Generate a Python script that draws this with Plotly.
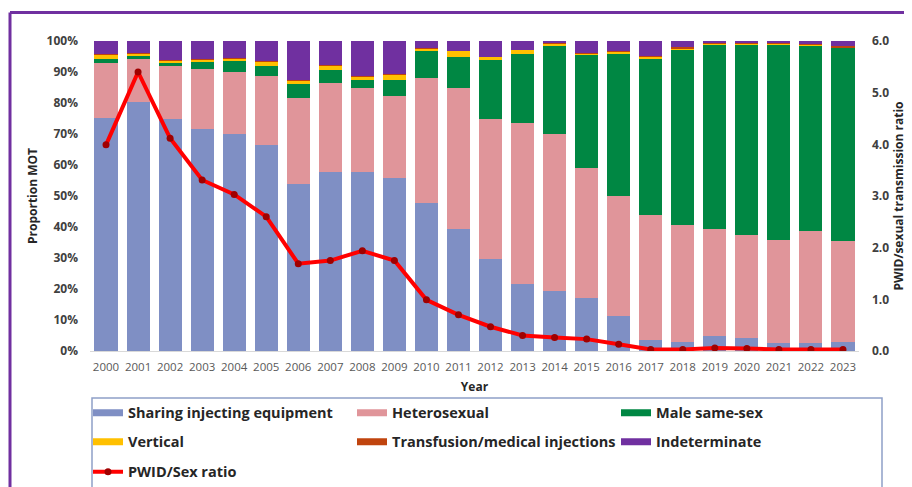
import plotly.graph_objects as go

years = [str(y) for y in range(2000, 2024)]

sharing = [75.3, 80.2, 74.8, 71.5, 70.1, 66.4, 54.0, 57.7, 57.7, 55.7, 47.8, 39.2,
           29.8, 21.6, 19.4, 17.2, 11.3, 3.6, 3.0, 4.9, 4.1, 2.7, 2.5, 2.8]
hetero = [17.6, 14.0, 17.2, 19.4, 20.0, 22.4, 27.6, 28.9, 27.0, 26.6, 40.4, 45.5,
          45.0, 51.8, 50.7, 41.9, 38.8, 40.2, 37.5, 34.5, 33.4, 33.0, 36.1, 32.8]
msm = [1.3, 1.0, 1.2, 2.3, 3.4, 3.2, 4.5, 4.1, 2.8, 5.2, 8.5, 10.2,
       19.2, 22.3, 28.3, 36.7, 46.0, 50.6, 56.9, 59.6, 61.5, 63.3, 60.1, 62.3]
vertical = [1.4, 0.7, 0.6, 0.9, 0.9, 1.3, 1.2, 1.5, 1.2, 1.7, 0.8, 1.9,
            0.9, 1.4, 0.9, 0.2, 0.5, 0.6, 0.3, 0.3, 0.3, 0.1, 0.1, 0.1]
transfusion = [0.2, 0.1, 0.1, 0.1, 0.1, 0.1, 0.1, 0.1, 0.1, 0.1, 0.1, 0.1,
               0.1, 0.1, 0.1, 0.2, 0.2, 0.2, 0.3, 0.1, 0.2, 0.3, 0.2, 0.3]
indeterminate = [4.2, 4.0, 6.1, 5.8, 5.5, 6.6, 12.6, 7.7, 11.2, 10.7, 2.4, 3.1,
                 5.0, 2.8, 0.6, 3.8, 3.2, 4.8, 2.0, 0.6, 0.5, 0.6, 1.0, 1.7]
ratio = [3.99, 5.40, 4.12, 3.31, 3.03, 2.60, 1.69, 1.75, 1.94, 1.75, 0.99, 0.70,
         0.47, 0.30, 0.26, 0.23, 0.13, 0.03, 0.03, 0.06, 0.05, 0.03, 0.03, 0.03]

series = [
    ("Sharing injecting equipment", sharing, "#7F8FC4", "legend"),
    ("Heterosexual", hetero, "#E0959A", "legend"),
    ("Male same-sex", msm, "#008743", "legend"),
    ("Vertical", vertical, "#FFC000", "legend2"),
    ("Transfusion/medical injections", transfusion, "#C0440E", "legend2"),
    ("Indeterminate", indeterminate, "#7030A0", "legend2"),
]

FONT = "Open Sans"
fig = go.Figure()
for name, vals, col, _ in series:
    fig.add_trace(go.Bar(x=years, y=vals, name=name, marker=dict(color=col, line=dict(width=0)),
                         showlegend=False))
for name, vals, col, lg in series:
    fig.add_trace(go.Scatter(x=[None], y=[None], mode="lines", name=name,
                             line=dict(color=col, width=7), legend=lg, hoverinfo="skip"))

fig.add_trace(go.Scatter(x=years, y=ratio, name="PWID/Sex ratio", yaxis="y2", mode="lines+markers",
                         line=dict(color="#FF0000", width=4),
                         marker=dict(color="#A00000", size=7), legend="legend3"))

# page offset (default body margin of the html page)
OFF = 8
W, H = 912, 487
# target positions in screenshot pixels
PL, PR, PT, PB = 90, 859, 41, 351
L, R, T, B = PL - OFF, W - (PR - OFF), PT - OFF, H - (PB - OFF)
pw, ph = W - L - R, H - T - B

def px(x):
    return (x - OFF - L) / pw

def py(y):
    return (H - B - (y - OFF)) / ph

legfont = dict(family=FONT, size=14.5, color="#262626", weight="bold")
common = dict(orientation="h", xanchor="left", yanchor="middle", entrywidth=219,
              entrywidthmode="pixels", font=legfont, bgcolor="rgba(0,0,0,0)",
              borderwidth=0, itemwidth=30, x=px(88), traceorder="normal")

fig.update_layout(
    width=W, height=H,
    margin=dict(l=L, r=R, t=T, b=B, autoexpand=False),
    paper_bgcolor="white", plot_bgcolor="white",
    barmode="stack", bargap=0.28,
    font=dict(family=FONT, color="#404040"),
    xaxis=dict(type="category", range=[-0.5, len(years) - 0.5], showgrid=False, showline=True,
               linecolor="#D9D9D9", linewidth=1, ticks="", ticklabelstandoff=5,
               tickfont=dict(size=11.5, color="#595959"), automargin=False,
               title=dict(text="Year", font=dict(size=12, color="#262626", weight="bold"), standoff=9)),
    yaxis=dict(range=[0, 100], dtick=10, ticksuffix="%", showgrid=False, zeroline=False,
               tickfont=dict(size=12, color="#404040", weight="bold"), ticklabelstandoff=11,
               automargin=False,
               title=dict(text="Proportion MOT", font=dict(size=12, color="#262626", weight="bold"),
                          standoff=6)),
    yaxis2=dict(range=[0, 6], dtick=1, tickformat=".1f", overlaying="y", side="right",
                showgrid=False, zeroline=False, automargin=False,
                tickfont=dict(size=12, color="#404040", weight="bold"), ticklabelstandoff=12,
                title=dict(text="PWID/sexual transmission ratio",
                           font=dict(size=12, color="#262626", weight="bold"), standoff=6)),
    legend=dict(common, y=py(412.7)),
    legend2=dict(common, y=py(441.7)),
    legend3=dict(common, y=py(471.7)),
    shapes=[
        dict(type="line", xref="paper", yref="paper", x0=px(10), x1=px(930), y0=py(12.5), y1=py(12.5),
             line=dict(color="#7030A0", width=3)),
        dict(type="line", xref="paper", yref="paper", x0=px(10), x1=px(10), y0=py(12.5), y1=py(520),
             line=dict(color="#7030A0", width=3)),
        dict(type="rect", xref="paper", yref="paper", x0=px(92), x1=px(882), y0=py(398), y1=py(520),
             line=dict(color="#8EA0C8", width=1.5), fillcolor="rgba(0,0,0,0)", layer="below"),
    ],
)

fig.write_html("out.html")
